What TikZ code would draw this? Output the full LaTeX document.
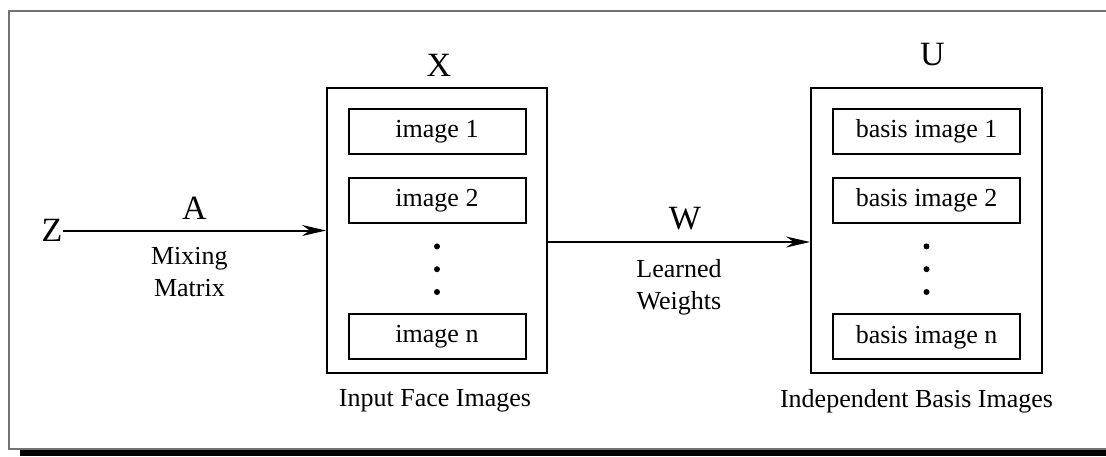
\documentclass[tikz,border=0pt]{standalone}
\usepackage{fontspec}
\setmainfont{Liberation Serif}
\usetikzlibrary{arrows.meta, positioning}
\tikzstyle{stackbox} = [rectangle, draw=black, line width=1pt, minimum width=110pt, minimum height=142.5pt]
\tikzstyle{imgbox} = [rectangle, draw=black, line width=1pt, minimum height=22.5pt, inner sep=0pt, font=\fontsize{13pt}{16pt}\selectfont]
\tikzstyle{bullet} = [circle, fill=black, inner sep=0pt, minimum size=3pt]
\tikzstyle{symlabel} = [inner sep=0pt, font=\fontsize{17pt}{19pt}\selectfont]
\tikzstyle{captext} = [inner sep=0pt, align=center, font=\fontsize{13pt}{16pt}\selectfont]
\tikzstyle{arrow} = [line width=1pt, -{Stealth[length=12pt, width=5.5pt]}]

\begin{document}
\begin{tikzpicture}[x=0.5pt, y=-0.5pt, node distance=11pt]
    \useasboundingbox (0,0) rectangle (1106,456);
    % frame, shadow along the bottom
    \fill [black] (20,450) rectangle (1112,456);
    \draw [black!55, line width=0.75pt] (9,11) rectangle (1108,449);

    % input face images
    \node (xbox) [stackbox] at (437,230.5) {};
    \node (ximg1) [imgbox, minimum width=88.5pt, below=10.5pt of xbox.north] {image 1};
    \node (ximg2) [imgbox, minimum width=88.5pt, below=of ximg1] {image 2};
    \node (xdot1) [bullet, below=9.5pt of ximg2] {};
    \node (xdot2) [bullet, below=8pt of xdot1] {};
    \node (xdot3) [bullet, below=8pt of xdot2] {};
    \node (ximgn) [imgbox, minimum width=88.5pt, below=9pt of xdot3] {image n};
    \node (xlab) [symlabel, above=5pt of xbox, xshift=1pt] {X};
    \node (xcap) [captext, below=7.5pt of xbox, xshift=-1pt] {Input Face Images};

    % independent basis images
    \node (ubox) [stackbox, minimum width=115.5pt] at (926.5,230.5) {};
    \node (uimg1) [imgbox, minimum width=93.5pt, below=10.5pt of ubox.north] {basis image 1};
    \node (uimg2) [imgbox, minimum width=93.5pt, below=of uimg1] {basis image 2};
    \node (udot1) [bullet, below=9.5pt of uimg2] {};
    \node (udot2) [bullet, below=8pt of udot1] {};
    \node (udot3) [bullet, below=8pt of udot2] {};
    \node (uimgn) [imgbox, minimum width=93.5pt, below=9pt of udot3] {basis image n};
    \node (ulab) [symlabel, above=10.5pt of ubox, xshift=3pt] {U};
    \node (ucap) [captext, below=7.5pt of ubox, xshift=-5pt] {Independent Basis Images};

    % sources and the two matrices
    \node (zin) [symlabel] at (52,230.5) {Z};
    \draw [arrow] (zin) -- node[symlabel, above=5pt] {A} node[captext, below=8pt, xshift=-2.5pt] {Mixing\\Matrix} (xbox);
    \draw [arrow] ([yshift=-5.75pt]xbox.east) -- node[symlabel, above=5.5pt, xshift=3pt] {W} node[captext, below=8pt] {Learned\\Weights} ([yshift=-5.75pt]ubox.west);
\end{tikzpicture}
\end{document}
